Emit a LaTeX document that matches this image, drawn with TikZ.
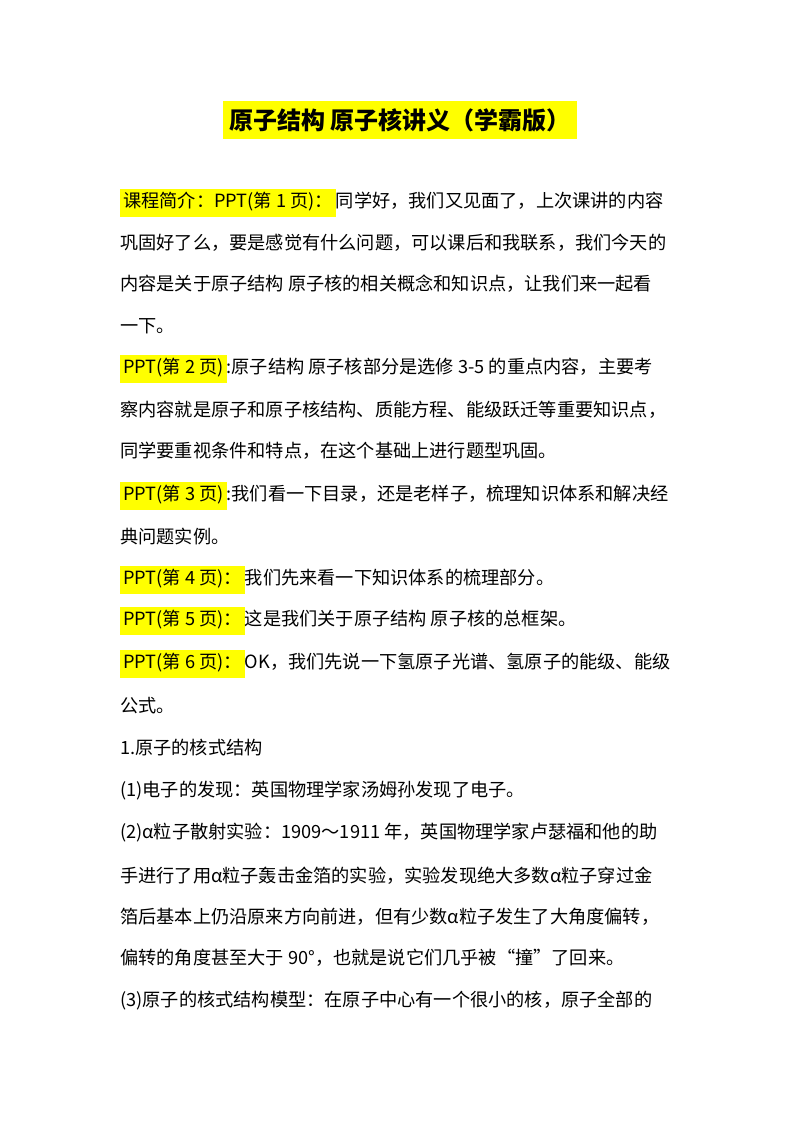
\documentclass[tikz,border=0pt]{standalone}
\usepackage{fontspec}
\setmainfont{Noto Sans CJK SC}
\definecolor{hl}{RGB}{255,255,0}
\newcommand{\hlt}[1]{{\setlength{\fboxsep}{3pt}\colorbox{hl}{\strut #1}}}
\begin{document}
\begin{tikzpicture}[x=1pt,y=-1pt,
  ln/.style={anchor=west,inner sep=0pt,font=\fontsize{18.2}{20}\selectfont}]
\useasboundingbox (0,0) rectangle (800,1132);
\node[fill=hl,inner xsep=6pt,inner ysep=7pt,font=\fontsize{24}{27}\selectfont\bfseries] (title) at (400,120) {原子结构\ 原子核讲义（学霸版）};
\node[ln] (l1) at (120,203) {\hlt{课程简介：PPT(第 1 页)：}同学好，我们又见面了，上次课讲的内容};
\node[ln] (l2) at (120,243) {巩固好了么，要是感觉有什么问题，可以课后和我联系，我们今天的};
\node[ln] (l3) at (120,284) {内容是关于原子结构\ 原子核的相关概念和知识点，让我们来一起看};
\node[ln] (l4) at (120,326) {一下。};
\node[ln] (l5) at (120,369) {\hlt{PPT(第 2 页)}:原子结构\ 原子核部分是选修 3-5 的重点内容，主要考};
\node[ln] (l6) at (120,410) {察内容就是原子和原子核结构、质能方程、能级跃迁等重要知识点，};
\node[ln] (l7) at (120,451) {同学要重视条件和特点，在这个基础上进行题型巩固。};
\node[ln] (l8) at (120,496) {\hlt{PPT(第 3 页)}:我们看一下目录，还是老样子，梳理知识体系和解决经};
\node[ln] (l9) at (120,537) {典问题实例。};
\node[ln] (l10) at (120,580) {\hlt{PPT(第 4 页)：}我们先来看一下知识体系的梳理部分。};
\node[ln] (l11) at (120,621) {\hlt{PPT(第 5 页)：}这是我们关于原子结构\ 原子核的总框架。};
\node[ln] (l12) at (120,664) {\hlt{PPT(第 6 页)：}OK，我们先说一下氢原子光谱、氢原子的能级、能级};
\node[ln] (l13) at (120,706) {公式。};
\node[ln] (l14) at (120,748) {1.原子的核式结构};
\node[ln] (l15) at (120,791) {(1)电子的发现：英国物理学家汤姆孙发现了电子。};
\node[ln] (l16) at (120,833) {(2)α粒子散射实验：1909～1911 年，英国物理学家卢瑟福和他的助};
\node[ln] (l17) at (120,876) {手进行了用α粒子轰击金箔的实验，实验发现绝大多数α粒子穿过金};
\node[ln] (l18) at (120,917) {箔后基本上仍沿原来方向前进，但有少数α粒子发生了大角度偏转，};
\node[ln] (l19) at (120,958) {偏转的角度甚至大于 90°，也就是说它们几乎被“撞”了回来。};
\node[ln] (l20) at (120,1001) {(3)原子的核式结构模型：在原子中心有一个很小的核，原子全部的};
\end{tikzpicture}
\end{document}
